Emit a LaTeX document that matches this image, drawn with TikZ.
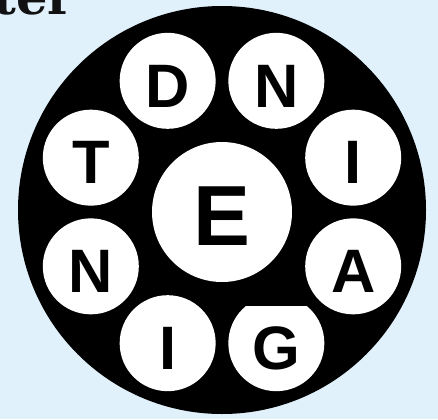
\documentclass[tikz,border=0pt]{standalone}
\usepackage{fontspec}
\setmainfont{Liberation Sans}
\newfontfamily\titlefont{DejaVu Serif}
\usepackage{tikz}
\definecolor{wbg}{HTML}{E0F1FC}
\definecolor{wink}{HTML}{111111}
\tikzset{
  wdisc/.style={circle, fill=black, minimum size=306pt, inner sep=0pt},
  whub/.style={circle, fill=white, minimum size=105pt, inner sep=0pt,
               text height=49.5pt, text depth=0pt,
               font=\fontsize{64}{64}\selectfont\bfseries},
  wring/.style={circle, fill=white, minimum size=72pt, inner sep=0pt,
                text height=39.5pt, text depth=0pt,
                font=\fontsize{46}{46}\selectfont\bfseries},
  wtitle/.style={wink, inner sep=0pt,
                 font=\fontsize{37}{37}\selectfont\titlefont\bfseries},
}

\begin{document}
\begin{tikzpicture}[x=0.75pt,y=0.75pt]

  \useasboundingbox (0,0) rectangle (438,419);
  \clip (0,0) rectangle (438,419);
  \fill[wbg] (0,0) rectangle (438,419);

  \node[wtitle, anchor=base east] (title) at (74,405) {ter};

  \node[wdisc] (disc) at (222,209) {};
  \node[whub] (hub) at (222,207) {E};

  % lettres autour du moyeu
  \foreach \ang/\ltr/\nm in {112.5/D/d, 67.5/N/n1, 22.5/I/i1, -22.5/A/a,
                             -67.5/G/g, -112.5/I/i2, -157.5/N/n2, 157.5/T/t}{
    \path (hub.center) ++(\ang:142) node[wring] (\nm) {\ltr};
  }

  \fill[black] (242,113) rectangle (311,126);

\end{tikzpicture}
\end{document}
